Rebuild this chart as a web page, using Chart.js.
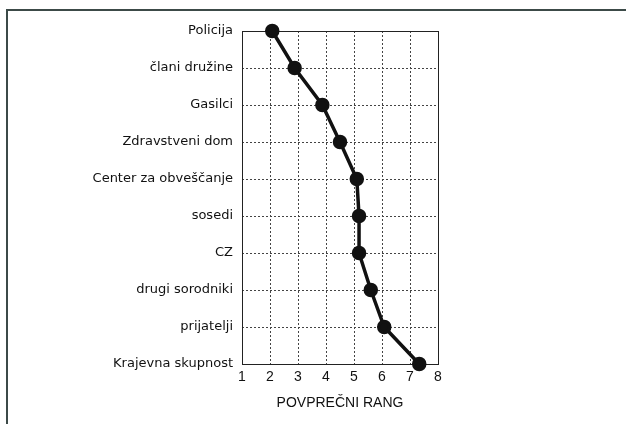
<!DOCTYPE html>
<html>
<head>
<meta charset="utf-8">
<title>Povprečni rang</title>
<script src="https://cdn.jsdelivr.net/npm/chart.js@4/dist/chart.umd.min.js"></script>
<style>
  html, body { margin: 0; padding: 0; background: #fff; }
  #wrap { position: relative; width: 626px; height: 424px; overflow: hidden; }
  #frame {
    position: absolute; left: 6px; top: 9px; right: 0; bottom: 0;
    border-left: 2px solid #3c4a48; border-top: 2px solid #3c4a48;
  }
  #chart { position: absolute; left: 0; top: 0; }
</style>
</head>
<body>
<div id="wrap">
  <div id="frame"></div>
  <canvas id="chart" width="626" height="424"></canvas>
</div>
<script>
// Data
const categories = [
  'Policija', 'člani družine', 'Gasilci', 'Zdravstveni dom', 'Center za obveščanje',
  'sosedi', 'CZ', 'drugi sorodniki', 'prijatelji', 'Krajevna skupnost'
];
const avgRank = [2.08, 2.88, 3.87, 4.5, 5.1, 5.18, 5.18, 5.6, 6.08, 7.33];
const rankTicks = [1, 2, 3, 4, 5, 6, 7, 8];
const axisTitle = 'POVPREČNI RANG';

const labelFont = '"DejaVu Sans", Verdana, sans-serif';
const fontFamily = '"Liberation Sans", Arial, sans-serif';

// Solid box around the plot area
const plotBox = {
  id: 'plotBox',
  beforeDatasetsDraw(chart) {
    const { ctx, chartArea: a } = chart;
    ctx.save();
    ctx.strokeStyle = '#222';
    ctx.lineWidth = 1;
    ctx.strokeRect(a.left + 0.5, a.top + 0.5, a.right - a.left, a.bottom - a.top);
    ctx.restore();
  }
};

const ctx = document.getElementById('chart').getContext('2d');
new Chart(ctx, {
  type: 'line',
  data: {
    labels: categories,
    datasets: [{
      data: avgRank,
      borderColor: '#111',
      backgroundColor: '#111',
      borderWidth: 3.5,
      tension: 0,
      pointRadius: 5.5,
      pointBackgroundColor: '#111',
      pointBorderColor: '#111',
      clip: false
    }]
  },
  options: {
    indexAxis: 'y',
    responsive: false,
    animation: false,
    layout: { padding: { left: 0, top: 31, right: 188, bottom: 12 } },
    plugins: {
      legend: { display: false },
      tooltip: { enabled: false }
    },
    scales: {
      y: {
        type: 'category',
        offset: false,
        afterFit(scale) { scale.width = 242; },
        grid: { color: '#444', lineWidth: 1, drawTicks: false },
        border: { display: false, dash: [2, 2] },
        ticks: {
          color: '#111',
          padding: 9,
          font: { family: labelFont, size: 13 }
        }
      },
      x: {
        type: 'linear',
        min: 1,
        max: 8,
        afterBuildTicks(scale) { scale.ticks = rankTicks.map(v => ({ value: v })); },
        afterFit(scale) { scale.height = 48; },
        grid: { color: '#444', lineWidth: 1, drawTicks: false },
        border: { display: false, dash: [2, 2] },
        ticks: {
          color: '#111',
          padding: 5,
          maxRotation: 0,
          font: { family: fontFamily, size: 14 }
        },
        title: {
          display: true,
          text: axisTitle,
          color: '#111',
          padding: { top: 1, bottom: 0 },
          font: { family: fontFamily, size: 14 }
        }
      }
    }
  },
  plugins: [plotBox]
});
</script>
</body>
</html>
